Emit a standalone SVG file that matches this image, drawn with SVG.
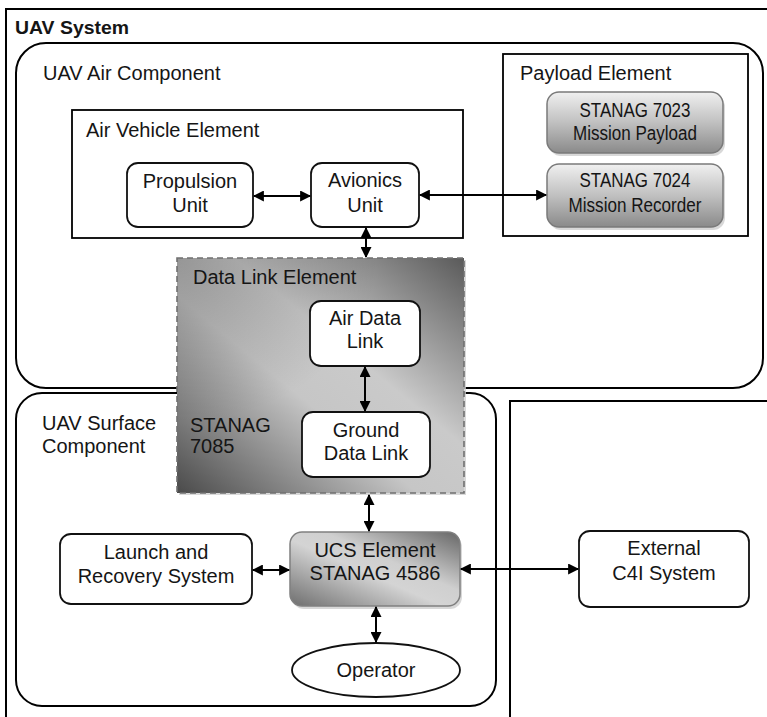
<svg xmlns="http://www.w3.org/2000/svg" width="767" height="717" viewBox="0 0 767 717">
<defs>
<style>
text{font-family:"Liberation Sans",Arial,sans-serif;font-size:20px;fill:#151515;}
.c{text-anchor:middle;}
.frame{fill:none;stroke:#000;stroke-width:2;}
.box{fill:#fff;stroke:#111;stroke-width:1.8;}
.con{fill:none;stroke:#000;stroke-width:2;marker-start:url(#ah);marker-end:url(#ah);}
.shadow{fill:#c8c8c8;opacity:0.7;}
</style>
<marker id="ah" viewBox="0 0 10 10" refX="9" refY="5" markerWidth="6" markerHeight="5.5" orient="auto-start-reverse" markerUnits="strokeWidth">
<path d="M0,0 L10,5 L0,10 z" fill="#000"/>
</marker>
<linearGradient id="gPay" x1="0" y1="0" x2="0" y2="1">
<stop offset="0" stop-color="#f0f0f0"/>
<stop offset="0.5" stop-color="#c0c0c0"/>
<stop offset="1" stop-color="#8a8a8a"/>
</linearGradient>
<linearGradient id="gDL" x1="0" y1="1" x2="1" y2="0">
<stop offset="0" stop-color="#4a4a4a"/>
<stop offset="0.42" stop-color="#c6c6c6"/>
<stop offset="0.6" stop-color="#cacaca"/>
<stop offset="1" stop-color="#5a5a5a"/>
</linearGradient>
<radialGradient id="gDLtl" cx="0" cy="0" r="0.7">
<stop offset="0" stop-color="#000" stop-opacity="0.25"/>
<stop offset="1" stop-color="#000" stop-opacity="0"/>
</radialGradient>
<linearGradient id="gUCS" x1="0" y1="1" x2="1" y2="0">
<stop offset="0" stop-color="#6e6e6e"/>
<stop offset="0.45" stop-color="#d4d4d4"/>
<stop offset="0.6" stop-color="#cfcfcf"/>
<stop offset="1" stop-color="#666"/>
</linearGradient>
</defs>

<g id="uav-system">
<path class="frame" d="M6,717 L6,9 L767,9"/>
<text x="15" y="34" style="font-weight:bold;font-size:18px" textLength="114" lengthAdjust="spacingAndGlyphs">UAV System</text>
</g>

<g id="external-region">
<path class="frame" d="M510,717 L510,401 L767,401"/>
</g>

<g id="air-component">
<rect class="frame" x="16" y="43" width="747" height="345" rx="30" ry="30"/>
<text x="43" y="80">UAV Air Component</text>
</g>

<g id="surface-component">
<rect class="frame" x="16" y="393" width="480" height="313" rx="26" ry="26"/>
<text x="42" y="430">UAV Surface</text>
<text x="42" y="453">Component</text>
</g>

<g id="air-vehicle-element">
<rect class="frame" x="72" y="110" width="391" height="128" style="stroke-width:1.8"/>
<text x="86" y="137">Air Vehicle Element</text>
</g>

<g id="propulsion-unit">
<rect class="box" x="127" y="163" width="126" height="64" rx="11"/>
<text class="c" x="190" y="188">Propulsion</text>
<text class="c" x="190" y="212">Unit</text>
</g>

<g id="avionics-unit">
<rect class="box" x="311" y="163" width="108" height="64" rx="11"/>
<text class="c" x="365" y="187">Avionics</text>
<text class="c" x="365" y="212">Unit</text>
</g>

<g id="payload-element">
<rect class="frame" x="503" y="54" width="245" height="182" style="stroke-width:1.8"/>
<text x="520" y="80">Payload Element</text>
</g>

<g id="stanag-7023">
<rect class="shadow" x="549" y="95" width="176" height="61" rx="12"/>
<rect x="547" y="92" width="176" height="61" rx="12" fill="url(#gPay)" stroke="#7a7a7a" stroke-width="1.5"/>
<text class="c" x="635" y="117" textLength="111" lengthAdjust="spacingAndGlyphs">STANAG 7023</text>
<text class="c" x="635" y="140" textLength="124" lengthAdjust="spacingAndGlyphs">Mission Payload</text>
</g>

<g id="stanag-7024">
<rect class="shadow" x="549" y="167" width="176" height="63" rx="12"/>
<rect x="547" y="164" width="176" height="63" rx="12" fill="url(#gPay)" stroke="#7a7a7a" stroke-width="1.5"/>
<text class="c" x="635" y="187" textLength="111" lengthAdjust="spacingAndGlyphs">STANAG 7024</text>
<text class="c" x="635" y="212" textLength="133" lengthAdjust="spacingAndGlyphs">Mission Recorder</text>
</g>

<g id="data-link-element">
<rect x="179" y="260" width="287" height="235" fill="#d0d0d0" opacity="0.8"/>
<rect x="177" y="258" width="287" height="235" fill="url(#gDL)"/>
<rect x="177" y="258" width="287" height="235" fill="url(#gDLtl)"/>
<rect x="177" y="258" width="287" height="235" fill="none" stroke="#707070" stroke-width="1.6" stroke-dasharray="6,4"/>
<text x="193" y="284">Data Link Element</text>
<text x="190" y="432">STANAG</text>
<text x="190" y="453">7085</text>
</g>

<g id="air-data-link">
<rect class="box" x="310" y="301" width="110" height="65" rx="11"/>
<text class="c" x="365" y="325">Air Data</text>
<text class="c" x="365" y="348">Link</text>
</g>

<g id="ground-data-link">
<rect class="box" x="302" y="412" width="128" height="65" rx="11"/>
<text class="c" x="366" y="437">Ground</text>
<text class="c" x="366" y="460">Data Link</text>
</g>

<g id="launch-recovery">
<rect class="box" x="60" y="534" width="192" height="70" rx="11"/>
<text class="c" x="156" y="559">Launch and</text>
<text class="c" x="156" y="583">Recovery System</text>
</g>

<g id="ucs-element">
<rect class="shadow" x="292" y="535" width="170" height="74" rx="12"/>
<rect x="290" y="532" width="170" height="74" rx="12" fill="url(#gUCS)" stroke="#808080" stroke-width="1.5"/>
<text class="c" x="375" y="557">UCS Element</text>
<text class="c" x="375" y="580">STANAG 4586</text>
</g>

<g id="external-c4i">
<rect class="box" x="579" y="531" width="170" height="76" rx="11"/>
<text class="c" x="664" y="555">External</text>
<text class="c" x="664" y="580">C4I System</text>
</g>

<g id="operator">
<ellipse class="box" cx="376" cy="670" rx="84" ry="27"/>
<text class="c" x="376" y="677">Operator</text>
</g>

<g id="connectors">
<line class="con" x1="254" y1="196" x2="310" y2="196"/>
<line class="con" x1="420" y1="195" x2="546" y2="195"/>
<line class="con" x1="366" y1="228" x2="366" y2="257"/>
<line class="con" x1="365" y1="367" x2="365" y2="411"/>
<line class="con" x1="369" y1="495" x2="369" y2="531"/>
<line class="con" x1="253" y1="570" x2="289" y2="570"/>
<line class="con" x1="461" y1="569" x2="578" y2="569"/>
<line class="con" x1="376" y1="607" x2="376" y2="642"/>
</g>
</svg>
